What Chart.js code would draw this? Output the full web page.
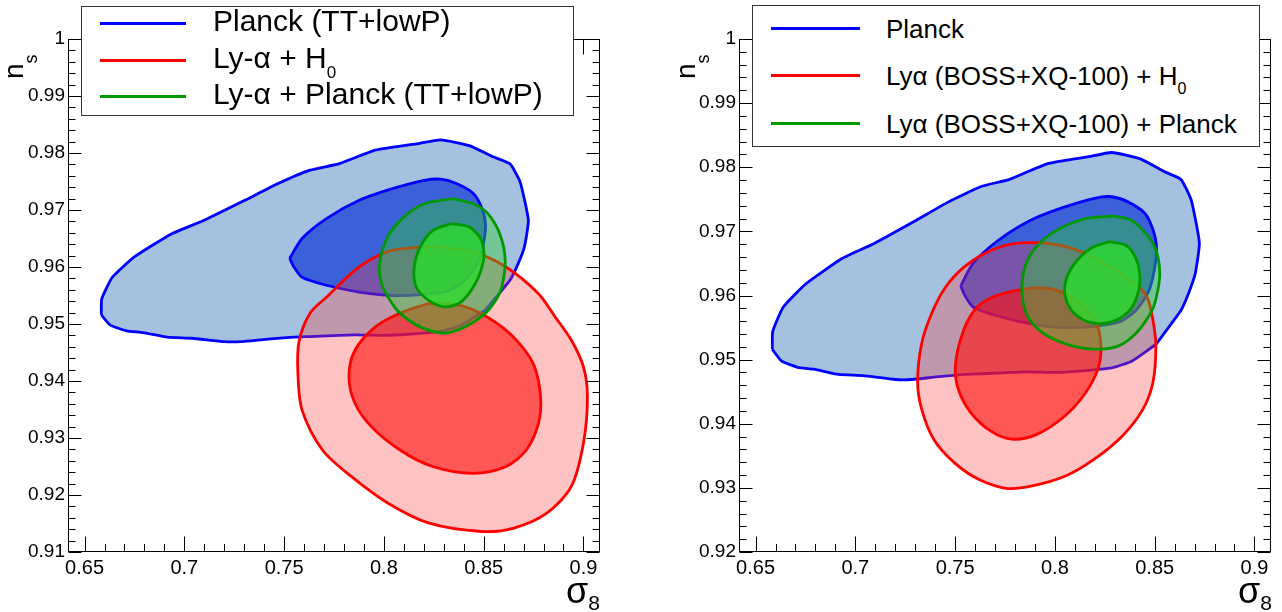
<!DOCTYPE html>
<html><head><meta charset="utf-8">
<script src="https://cdn.jsdelivr.net/npm/chart.js@4.4.0/dist/chart.umd.min.js"></script>
<style>
html,body{margin:0;padding:0;background:#fff;}
body{width:1282px;height:612px;position:relative;overflow:hidden;font-family:"Liberation Sans",Arial,sans-serif;color:#000;}
canvas{position:absolute;top:0;}
.leg{position:absolute;background:#fff;border:1px solid #333;box-sizing:border-box;}
.sw{position:absolute;height:3px;}
.lt{position:absolute;white-space:nowrap;}
.sub{position:relative;}
.ytitle{position:absolute;white-space:nowrap;font-size:28px;line-height:28px;transform:rotate(-90deg);transform-origin:left top;}
.xtitle{position:absolute;white-space:nowrap;font-size:36px;line-height:40px;text-align:right;}
</style>
</head><body>
<canvas id="c1" width="640" height="612" style="left:0px"></canvas>
<canvas id="c2" width="642" height="612" style="left:640px"></canvas>

<!-- left legend -->
<div class="leg" style="left:81px;top:6px;width:493px;height:110px"></div>
<div class="sw" style="left:100px;width:86px;top:22px;background:#0000ff"></div>
<div class="sw" style="left:100px;width:86px;top:59px;background:#ff0000"></div>
<div class="sw" style="left:100px;width:86px;top:95px;background:#009900"></div>
<div class="lt" style="left:213px;top:4px;font-size:30px;line-height:34px">Planck (TT+lowP)</div>
<div class="lt" style="left:213px;top:41px;font-size:30px;line-height:34px">Ly-α + H<span class="sub" style="font-size:17px;top:10px">0</span></div>
<div class="lt" style="left:213px;top:77px;font-size:30px;line-height:34px">Ly-α + Planck (TT+lowP)</div>

<!-- right legend -->
<div class="leg" style="left:752px;top:5px;width:508px;height:142px"></div>
<div class="sw" style="left:771px;width:89px;top:27px;background:#0000ff"></div>
<div class="sw" style="left:771px;width:89px;top:74px;background:#ff0000"></div>
<div class="sw" style="left:771px;width:89px;top:122px;background:#009900"></div>
<div class="lt" style="left:886px;top:14px;font-size:26px;line-height:30px">Planck</div>
<div class="lt" style="left:886px;top:61px;font-size:26px;line-height:30px">Lyα (BOSS+XQ-100) + H<span class="sub" style="font-size:16px;top:9px">0</span></div>
<div class="lt" style="left:886px;top:109px;font-size:26px;line-height:30px">Lyα (BOSS+XQ-100) + Planck</div>

<!-- axis titles -->
<div class="ytitle" style="left:0px;top:79px">n<span class="sub" style="font-size:18px;top:14px">s</span></div>
<div class="ytitle" style="left:672px;top:79px">n<span class="sub" style="font-size:18px;top:14px">s</span></div>
<div class="xtitle" style="left:500px;top:571px;width:100px">σ<span class="sub" style="font-size:21px;top:7px">8</span></div>
<div class="xtitle" style="left:1172px;top:571px;width:100px">σ<span class="sub" style="font-size:21px;top:7px">8</span></div>

<script>
// ---------- data (sigma8, n_s) ----------
const xTicks = [0.65, 0.7, 0.75, 0.8, 0.85, 0.9];
const yTicksLeft = [0.91, 0.92, 0.93, 0.94, 0.95, 0.96, 0.97, 0.98, 0.99, 1.0];
const yTicksRight = [0.92, 0.93, 0.94, 0.95, 0.96, 0.97, 0.98, 0.99, 1.0];

// Planck (TT+lowP): 95% and 68% contours (same in both panels)
const planck95 = [[0.6584,0.9516],[0.6586,0.9544],[0.6639,0.9582],[0.6751,0.9618],[0.6935,0.9658],[0.7099,0.9682],[0.7303,0.9717],[0.7467,0.9746],[0.7630,0.9770],[0.7773,0.9781],[0.7957,0.9805],[0.8162,0.9816],[0.8285,0.9823],[0.8428,0.9813],[0.8550,0.9793],[0.8632,0.9781],[0.8683,0.9749],[0.8724,0.9682],[0.8704,0.9635],[0.8673,0.9606],[0.8632,0.9577],[0.8550,0.9542],[0.8509,0.9525],[0.8387,0.9498],[0.8285,0.9487],[0.8121,0.9482],[0.7998,0.9480],[0.7855,0.9481],[0.7630,0.9478],[0.7549,0.9477],[0.7406,0.9473],[0.7283,0.9469],[0.7201,0.9469],[0.7038,0.9475],[0.6915,0.9477],[0.6792,0.9485],[0.6711,0.9488],[0.6629,0.9498]];
const planck68 = [[0.7528,0.9615],[0.7590,0.9650],[0.7712,0.9685],[0.7876,0.9717],[0.8039,0.9737],[0.8203,0.9752],[0.8285,0.9754],[0.8366,0.9746],[0.8448,0.9729],[0.8489,0.9705],[0.8509,0.9676],[0.8499,0.9641],[0.8469,0.9606],[0.8407,0.9577],[0.8326,0.9559],[0.8203,0.9552],[0.8039,0.9550],[0.7876,0.9556],[0.7712,0.9568],[0.7590,0.9582],[0.7549,0.9600]];

// Left panel: Ly-alpha + H0
const lyaH0_95 = [[0.8244,0.9636],[0.8448,0.9626],[0.8612,0.9600],[0.8775,0.9553],[0.8857,0.9513],[0.8939,0.9472],[0.9000,0.9425],[0.9020,0.9373],[0.9000,0.9291],[0.8939,0.9215],[0.8816,0.9168],[0.8652,0.9142],[0.8489,0.9136],[0.8223,0.9151],[0.8019,0.9186],[0.7835,0.9233],[0.7692,0.9279],[0.7590,0.9349],[0.7569,0.9414],[0.7575,0.9470],[0.7630,0.9519],[0.7712,0.9547],[0.7876,0.9600],[0.8039,0.9629]];
const lyaH0_68 = [[0.8223,0.9536],[0.8325,0.9536],[0.8448,0.9525],[0.8591,0.9495],[0.8693,0.9460],[0.8755,0.9425],[0.8785,0.9373],[0.8775,0.9326],[0.8714,0.9279],[0.8612,0.9250],[0.8448,0.9238],[0.8244,0.9250],[0.8080,0.9279],[0.7937,0.9320],[0.7855,0.9361],[0.7825,0.9408],[0.7855,0.9454],[0.7957,0.9495],[0.8080,0.9519]];
// Left panel: Ly-alpha + Planck
const lyaPlanck_95 = [[0.8346,0.9720],[0.8448,0.9711],[0.8520,0.9694],[0.8581,0.9658],[0.8608,0.9612],[0.8591,0.9565],[0.8561,0.9542],[0.8509,0.9519],[0.8407,0.9495],[0.8305,0.9484],[0.8182,0.9495],[0.8080,0.9519],[0.8030,0.9542],[0.7988,0.9571],[0.7978,0.9606],[0.8019,0.9653],[0.8101,0.9688],[0.8203,0.9711]];
const lyaPlanck_68 = [[0.8336,0.9676],[0.8428,0.9670],[0.8489,0.9647],[0.8499,0.9612],[0.8458,0.9571],[0.8387,0.9539],[0.8305,0.9530],[0.8223,0.9542],[0.8162,0.9565],[0.8152,0.9600],[0.8182,0.9635],[0.8244,0.9664]];

// Right panel: Lya (BOSS+XQ-100) + H0
const bossH0_95 = [[0.7917,0.9683],[0.8030,0.9678],[0.8132,0.9668],[0.8276,0.9645],[0.8399,0.9619],[0.8461,0.9598],[0.8491,0.9562],[0.8506,0.9521],[0.8491,0.9464],[0.8440,0.9422],[0.8338,0.9381],[0.8194,0.9344],[0.8050,0.9318],[0.7886,0.9303],[0.7763,0.9299],[0.7620,0.9313],[0.7497,0.9339],[0.7394,0.9375],[0.7333,0.9422],[0.7312,0.9466],[0.7333,0.9526],[0.7384,0.9573],[0.7450,0.9612],[0.7540,0.9643],[0.7650,0.9666],[0.7780,0.9680]];
const bossH0_68 = [[0.7886,0.9612],[0.7968,0.9611],[0.8050,0.9603],[0.8153,0.9581],[0.8214,0.9552],[0.8231,0.9516],[0.8214,0.9484],[0.8153,0.9448],[0.8050,0.9412],[0.7907,0.9383],[0.7784,0.9376],[0.7681,0.9388],[0.7579,0.9417],[0.7517,0.9453],[0.7501,0.9490],[0.7538,0.9542],[0.7599,0.9578],[0.7671,0.9595],[0.7763,0.9605]];
// Right panel: Lya (BOSS+XQ-100) + Planck
const bossPlanck_95 = [[0.8286,0.9724],[0.8379,0.9718],[0.8440,0.9702],[0.8501,0.9676],[0.8526,0.9634],[0.8506,0.9594],[0.8481,0.9573],[0.8409,0.9542],[0.8317,0.9521],[0.8204,0.9516],[0.8091,0.9521],[0.7968,0.9536],[0.7886,0.9557],[0.7845,0.9583],[0.7835,0.9619],[0.7856,0.9650],[0.7907,0.9676],[0.8009,0.9702],[0.8153,0.9720]];
const bossPlanck_68 = [[0.8276,0.9684],[0.8358,0.9678],[0.8403,0.9660],[0.8424,0.9637],[0.8420,0.9608],[0.8378,0.9578],[0.8296,0.9560],[0.8214,0.9556],[0.8143,0.9562],[0.8081,0.9578],[0.8050,0.9603],[0.8061,0.9629],[0.8112,0.9655],[0.8194,0.9676]];

// ---------- styles ----------
const STY = {
  blue95:  {fill:'rgb(164,193,223)', line:'#0000ff'},
  blue68:  {fill:'rgb(60,96,216)',   line:'#0000ff'},
  red95:   {fill:'rgba(255,60,60,0.31)', line:'#ff0000'},
  red68:   {fill:'rgba(255,20,20,0.62)', line:'#ff0000'},
  green95: {fill:'rgba(50,205,50,0.42)', line:'#009900'},
  green68: {fill:'rgba(45,220,45,0.80)', line:'#009900'}
};

function closed(pts){ const d = pts.map(([x,y])=>({x,y})); d.push({x:pts[0][0], y:pts[0][1]}); return d; }
function ds(pts, sty, order, tension){
  return {data:closed(pts), showLine:true, fill:'shape', backgroundColor:sty.fill, borderColor:sty.line,
          borderWidth:2.8, pointRadius:0, pointHoverRadius:0, tension:tension, order:order};
}
const fmt = v => String(+(+v).toFixed(2));

const frameTicks = {
  id:'frameTicks',
  afterDraw(chart, args, opts){
    const {ctx, chartArea:a, scales:{x, y}} = chart;
    ctx.save();
    ctx.strokeStyle = '#000'; ctx.lineWidth = 1;
    const L = Math.round(a.left)+0.5, R = Math.round(a.right)-0.5, T = Math.round(a.top)+0.5, B = Math.round(a.bottom)-0.5;
    ctx.strokeRect(L, T, R-L, B-T);
    ctx.beginPath();
    const isMajor = (v, arr) => arr.some(t => Math.abs(t - v) < 1e-7);
    const xm = x.ticks.map(t=>t.value), ym = y.ticks.map(t=>t.value);
    for (let k = Math.ceil(x.min/opts.xStep - 1e-6); k*opts.xStep <= x.max + 1e-9; k++) {
      const v = k*opts.xStep; const px = Math.round(x.getPixelForValue(v)) + 0.5;
      const len = isMajor(v, xm) ? opts.xMajor : opts.xMinor;
      ctx.moveTo(px, B); ctx.lineTo(px, B - len);
      ctx.moveTo(px, T); ctx.lineTo(px, T + len);
    }
    for (let k = Math.ceil(y.min/opts.yStep - 1e-6); k*opts.yStep <= y.max + 1e-9; k++) {
      const v = k*opts.yStep; const py = Math.round(y.getPixelForValue(v)) + 0.5;
      const len = isMajor(v, ym) ? opts.yMajor : opts.yMinor;
      ctx.moveTo(L, py); ctx.lineTo(L + len, py);
      ctx.moveTo(R, py); ctx.lineTo(R - len, py);
    }
    ctx.stroke();
    ctx.restore();
  }
};

function makeChart(id, sets, yMin, yMax, yTicks, yAxisWidth, padRight){
  return new Chart(document.getElementById(id), {
    type:'scatter',
    data:{datasets:sets},
    options:{
      responsive:false, animation:false, events:[],
      layout:{padding:{top:39, right:padRight, left:0, bottom:0}},
      plugins:{legend:{display:false}, tooltip:{enabled:false},
        frameTicks:{xStep:0.01, yStep:0.002, xMajor:15, xMinor:7.5, yMajor:13, yMinor:7}},
      scales:{
        x:{type:'linear', min:0.6417, max:0.9083,
           grid:{display:false, drawTicks:false}, border:{display:false},
           afterFit:s=>{s.height = 60;},
           afterBuildTicks:s=>{s.ticks = xTicks.map(v=>({value:v}));},
           ticks:{autoSkip:false, maxRotation:0, minRotation:0, padding:4, color:'#000',
                  font:{family:'Liberation Sans', size:20}, callback:fmt}},
        y:{type:'linear', min:yMin, max:yMax,
           grid:{display:false, drawTicks:false}, border:{display:false},
           afterFit:s=>{s.width = yAxisWidth;},
           afterBuildTicks:s=>{s.ticks = yTicks.map(v=>({value:v}));},
           ticks:{autoSkip:false, padding:3, color:'#000',
                  font:{family:'Liberation Sans', size:19}, callback:fmt}}
      }
    },
    plugins:[frameTicks]
  });
}

makeChart('c1', [
  ds(planck95, STY.blue95, 6, 0.15), ds(planck68, STY.blue68, 5, 0.25),
  ds(lyaH0_95, STY.red95, 4, 0.3), ds(lyaH0_68, STY.red68, 3, 0.3),
  ds(lyaPlanck_95, STY.green95, 2, 0.3), ds(lyaPlanck_68, STY.green68, 1, 0.3)
], 0.91, 1.0, yTicksLeft, 68, 40);

makeChart('c2', [
  ds(planck95, STY.blue95, 6, 0.15), ds(planck68, STY.blue68, 5, 0.25),
  ds(bossH0_95, STY.red95, 4, 0.3), ds(bossH0_68, STY.red68, 3, 0.3),
  ds(bossPlanck_95, STY.green95, 2, 0.3), ds(bossPlanck_68, STY.green68, 1, 0.3)
], 0.92, 1.0, yTicksRight, 99, 11);
</script>
</body></html>
